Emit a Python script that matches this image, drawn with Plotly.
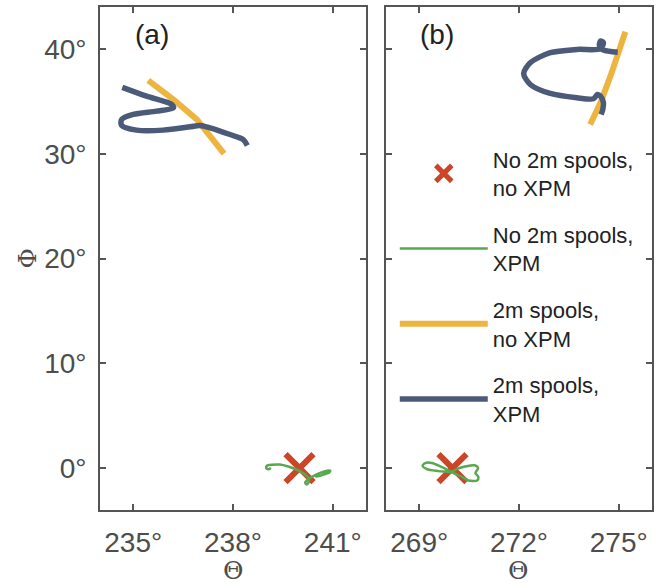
import plotly.graph_objects as go

# ---------------- data ----------------
# panel (a)
a_blue_x = [234.67, 235.40, 236.16, 236.21, 235.70, 235.00, 234.65, 234.65, 235.10, 235.90,
            236.71, 237.01, 237.31, 237.91, 238.31, 238.43]
a_blue_y = [36.33, 35.49, 34.70, 34.38, 34.06, 33.75, 33.27, 32.70, 32.25, 32.25,
            32.57, 32.70, 32.47, 31.83, 31.35, 30.78]
a_yel_x = [235.45, 236.21, 236.91, 237.41, 237.73]
a_yel_y = [36.99, 35.17, 33.27, 31.35, 30.02]
a_grn_x = [239.14, 239.08, 239.00, 239.02, 239.16, 239.41, 239.66, 239.92, 240.11, 240.25,
           240.29, 240.22, 240.17, 240.27, 240.47, 240.72, 240.92, 240.89, 240.67, 240.50, 240.47]
a_grn_y = [0.00, -0.10, 0.00, 0.22, 0.32, 0.34, 0.15, -0.16, -0.48, -0.86,
           -1.28, -1.56, -1.37, -1.05, -0.67, -0.35, -0.23, -0.42, -0.67, -0.80, -0.67]
a_ref_x = [240.0]
a_ref_y = [0.0]

# panel (b)
b_blue_x = [274.97, 274.54, 274.42, 274.45, 274.54, 274.45, 273.74, 272.94, 272.34, 272.14,
            272.34, 272.94, 273.74, 274.24, 274.36, 274.45, 274.54, 274.52, 274.47]
b_blue_y = [39.69, 39.89, 40.27, 40.75, 40.59, 40.02, 39.95, 39.64, 38.68, 37.66,
            36.61, 35.75, 35.34, 35.24, 35.65, 35.49, 34.86, 34.22, 33.74]
b_yel_x = [274.14, 274.45, 274.75, 275.00, 275.20]
b_yel_y = [32.79, 34.86, 37.40, 39.95, 41.64]
b_grn_x = [269.985, 269.68, 269.38, 269.18, 269.10, 269.23, 269.58, 269.985, 270.29, 270.48,
           270.74, 270.78, 270.69, 270.77, 270.69, 270.38, 270.14, 269.985]
b_grn_y = [-0.32, 0.10, 0.48, 0.48, 0.22, -0.10, -0.29, -0.42, -0.86, -1.18,
           -1.18, -0.86, -0.48, 0.00, 0.25, 0.15, -0.07, -0.32]
b_ref_x = [270.0]
b_ref_y = [0.0]

a_xticks = [235, 238, 241]
a_xlabels = ["235°", "238°", "241°"]
b_xticks = [269, 272, 275]
b_xlabels = ["269°", "272°", "275°"]
y_ticks = [0, 10, 20, 30, 40]
y_labels = ["0°", "10°", "20°", "30°", "40°"]

names = ["No 2m spools,<br>no XPM", "No 2m spools,<br>XPM", "2m spools,<br>no XPM", "2m spools,<br>XPM"]
x_title = "Θ"
y_title = "Φ"

# ---------------- style ----------------
RED = "#CC4529"
GRN = "#58A84F"
YEL = "#EDB53F"
BLU = "#4A5A78"
AX = "#555555"
TXT = "#4d4d4d"
FONT = "Liberation Sans, Arial, sans-serif"
SERIF = "DejaVu Serif, serif"

fig = go.Figure()

def add_panel(xa, ya, gx, gy, yx, yy, bx, by, rx, ry, show):
    fig.add_trace(go.Scatter(x=yx, y=yy, xaxis=xa, yaxis=ya, mode="lines", line=dict(color=YEL, width=6),
                             name=names[2], showlegend=show, legendgroup="g3", legendrank=3))
    fig.add_trace(go.Scatter(x=bx, y=by, xaxis=xa, yaxis=ya, mode="lines",
                             line=dict(color=BLU, width=5.5, shape="spline", smoothing=0.8),
                             name=names[3], showlegend=show, legendgroup="g4", legendrank=4))
    fig.add_trace(go.Scatter(x=rx, y=ry, xaxis=xa, yaxis=ya, mode="markers",
                             marker=dict(symbol="x-thin", size=28, line=dict(color=RED, width=6)),
                             name=names[0], showlegend=show, legendgroup="g1", legendrank=1))
    fig.add_trace(go.Scatter(x=gx, y=gy, xaxis=xa, yaxis=ya, mode="lines",
                             line=dict(color=GRN, width=2.5, shape="spline", smoothing=0.8),
                             name=names[1], showlegend=show, legendgroup="g2", legendrank=2))

add_panel("x", "y", a_grn_x, a_grn_y, a_yel_x, a_yel_y, a_blue_x, a_blue_y, a_ref_x, a_ref_y, False)
add_panel("x2", "y2", b_grn_x, b_grn_y, b_yel_x, b_yel_y, b_blue_x, b_blue_y, b_ref_x, b_ref_y, True)

axcommon = dict(showline=True, linecolor=AX, linewidth=1.8, mirror="ticks", ticks="inside",
                ticklen=6, tickwidth=1.5, tickcolor=AX, showgrid=False, zeroline=False,
                automargin=False, tickfont=dict(family=FONT, size=28, color=TXT))

title_font = dict(family=SERIF, size=25, color=TXT)

fig.update_layout(
    width=660, height=586,
    margin=dict(l=100, r=8, t=7, b=76),
    paper_bgcolor="white", plot_bgcolor="white",
    font=dict(family=FONT, color=TXT),
    xaxis=dict(domain=[0, 0.4819], range=[234, 242], tickvals=a_xticks, ticktext=a_xlabels,
               ticklabelstandoff=6, anchor="y", **axcommon),
    yaxis=dict(domain=[0, 1], range=[-4, 44], tickvals=y_ticks, ticktext=y_labels, anchor="x",
               ticklabelstandoff=6, **axcommon),
    xaxis2=dict(domain=[0.5181, 1], range=[268, 276], tickvals=b_xticks, ticktext=b_xlabels,
                anchor="y2", ticklabelstandoff=6, **axcommon),
    yaxis2=dict(domain=[0, 1], range=[-4, 44], tickvals=y_ticks, anchor="x2", showticklabels=False,
                **axcommon),
    legend=dict(x=0.534, y=0.739, xanchor="left", yanchor="top", bgcolor="rgba(0,0,0,0)",
                font=dict(family=FONT, size=22, color="#222222"), itemwidth=88,
                traceorder="grouped", tracegroupgap=15),
    annotations=[
        dict(text="(a)", x=0.095, y=0.945, xref="paper", yref="paper", showarrow=False,
             font=dict(family=FONT, size=28, color="#222222"), xanchor="center", yanchor="middle"),
        dict(text="(b)", x=0.61, y=0.945, xref="paper", yref="paper", showarrow=False,
             font=dict(family=FONT, size=28, color="#222222"), xanchor="center", yanchor="middle"),
        # axis titles
        dict(text=x_title, x=0.241, y=-0.1505, xref="paper", yref="paper", showarrow=False,
             font=title_font, xanchor="center", yanchor="bottom", borderpad=0),
        dict(text=x_title, x=0.759, y=-0.1505, xref="paper", yref="paper", showarrow=False,
             font=title_font, xanchor="center", yanchor="bottom", borderpad=0),
        dict(text=y_title, x=-0.1322, y=0.5, xref="paper", yref="paper", showarrow=False,
             font=title_font, textangle=-90, xanchor="center", yanchor="middle"),
    ],
)

fig.write_html("out.html", config={"displayModeBar": False},
               post_script="document.body.style.margin='0';")
